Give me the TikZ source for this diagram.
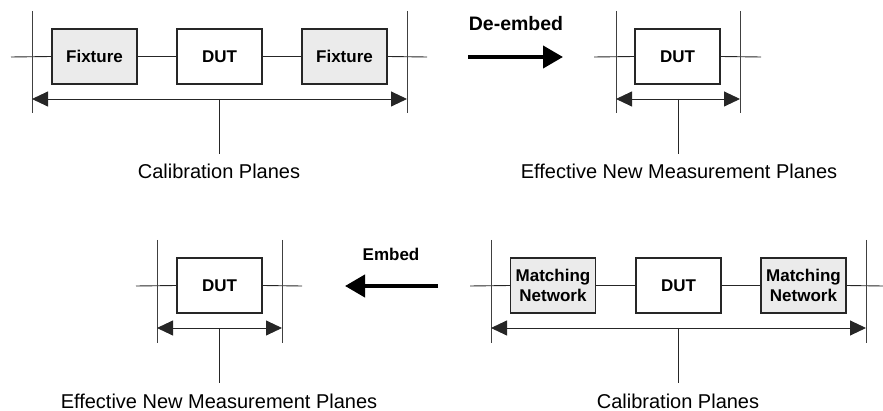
\documentclass[tikz,border=0pt]{standalone}
\usepackage{fontspec}
\setmainfont{Liberation Sans}
\usetikzlibrary{arrows.meta}
\begin{document}
\begin{tikzpicture}[x=1pt,y=-1pt,
  wire/.style={line width=0.9pt, draw=black!85},
  plane/.style={line width=0.8pt, draw=black!75},
  blk/.style={draw=black!85, line width=1.1pt, minimum width=85pt, minimum height=55pt, inner sep=0pt, font=\bfseries\fontsize{17}{20}\selectfont, align=center, fill=white},
  fix/.style={blk, fill=black!8},
  dimarrow/.style={line width=0.9pt, draw=black!85, {Triangle[length=16pt,width=15pt]}-{Triangle[length=16pt,width=15pt]}},
  bigarrow/.style={line width=4pt, -{Triangle[length=20pt,width=22pt]}},
  lbl/.style={font=\fontsize{20}{24}\selectfont, inner sep=0pt},
  act/.style={font=\bfseries\fontsize{17}{20}\selectfont, inner sep=0pt}]
\useasboundingbox (0,0) rectangle (883,411);

% ---------- top-left: fixtures + DUT ----------
\coordinate (a0) at (11,57);
\coordinate (a9) at (427,57);
\node[fix] (af1) at (94.5,56.5) {Fixture};
\node[blk] (ad)  at (219.5,56.5) {DUT};
\node[fix] (af2) at (344.5,56.5) {Fixture};
\draw[wire] (a0) -- (af1.west);
\draw[wire] (af1.east) -- (ad.west);
\draw[wire] (ad.east) -- (af2.west);
\draw[wire] (af2.east) -- (a9);
\coordinate (apl1t) at (32,11); \coordinate (apl1b) at (32,113);
\coordinate (apl2t) at (407,11); \coordinate (apl2b) at (407,113);
\draw[plane] (apl1t) -- (apl1b);
\draw[plane] (apl2t) -- (apl2b);
\coordinate (adl) at (32,99); \coordinate (adr) at (407,99);
\draw[dimarrow] (adl) -- (adr);
\coordinate (av1) at (219,99); \coordinate (av2) at (219,154);
\draw[wire] (av1) -- (av2);
\node[lbl] (alab) at (219,171) {Calibration Planes};

% ---------- De-embed arrow ----------
\node[act, font=\bfseries\fontsize{19.5}{22}\selectfont] (deemb) at (516,24) {De-embed};
\coordinate (ds) at (468,57); \coordinate (de) at (563,57);
\draw[bigarrow] (ds) -- (de);

% ---------- top-right: DUT only ----------
\coordinate (b0) at (594,57);
\coordinate (b9) at (761,57);
\node[blk] (bd) at (677.5,56.5) {DUT};
\draw[wire] (b0) -- (bd.west);
\draw[wire] (bd.east) -- (b9);
\coordinate (bpl1t) at (616,11); \coordinate (bpl1b) at (616,113);
\coordinate (bpl2t) at (740,11); \coordinate (bpl2b) at (740,113);
\draw[plane] (bpl1t) -- (bpl1b);
\draw[plane] (bpl2t) -- (bpl2b);
\coordinate (bdl) at (616,99); \coordinate (bdr) at (740,99);
\draw[dimarrow] (bdl) -- (bdr);
\coordinate (bv1) at (678,99); \coordinate (bv2) at (678,154);
\draw[wire] (bv1) -- (bv2);
\node[lbl] (blab) at (679,171) {Effective New Measurement Planes};

% ---------- bottom-left: DUT only ----------
\coordinate (c0) at (136,286);
\coordinate (c9) at (302,286);
\node[blk] (cd) at (219.5,285.5) {DUT};
\draw[wire] (c0) -- (cd.west);
\draw[wire] (cd.east) -- (c9);
\coordinate (cpl1t) at (157,240); \coordinate (cpl1b) at (157,343);
\coordinate (cpl2t) at (282,240); \coordinate (cpl2b) at (282,343);
\draw[plane] (cpl1t) -- (cpl1b);
\draw[plane] (cpl2t) -- (cpl2b);
\coordinate (cdl) at (157,328); \coordinate (cdr) at (282,328);
\draw[dimarrow] (cdl) -- (cdr);
\coordinate (cv1) at (219,328); \coordinate (cv2) at (219,383);
\draw[wire] (cv1) -- (cv2);
\node[lbl] (clab) at (219,401) {Effective New Measurement Planes};

% ---------- Embed arrow ----------
\node[act] (emb) at (391,254) {Embed};
\coordinate (es) at (438,286); \coordinate (ee) at (345,286);
\draw[bigarrow] (es) -- (ee);

% ---------- bottom-right: matching networks + DUT ----------
\coordinate (d0) at (470,286);
\coordinate (d9) at (883,286);
\node[fix] (dm1) at (553,285.5) {Matching\\Network};
\node[blk] (dd)  at (678.5,285.5) {DUT};
\node[fix] (dm2) at (803.5,285.5) {Matching\\Network};
\draw[wire] (d0) -- (dm1.west);
\draw[wire] (dm1.east) -- (dd.west);
\draw[wire] (dd.east) -- (dm2.west);
\draw[wire] (dm2.east) -- (d9);
\coordinate (dpl1t) at (491,240); \coordinate (dpl1b) at (491,343);
\coordinate (dpl2t) at (866,240); \coordinate (dpl2b) at (866,343);
\draw[plane] (dpl1t) -- (dpl1b);
\draw[plane] (dpl2t) -- (dpl2b);
\coordinate (ddl) at (491,328); \coordinate (ddr) at (866,328);
\draw[dimarrow] (ddl) -- (ddr);
\coordinate (dv1) at (678,328); \coordinate (dv2) at (678,383);
\draw[wire] (dv1) -- (dv2);
\node[lbl] (dlab) at (678,401) {Calibration Planes};
\end{tikzpicture}
\end{document}
